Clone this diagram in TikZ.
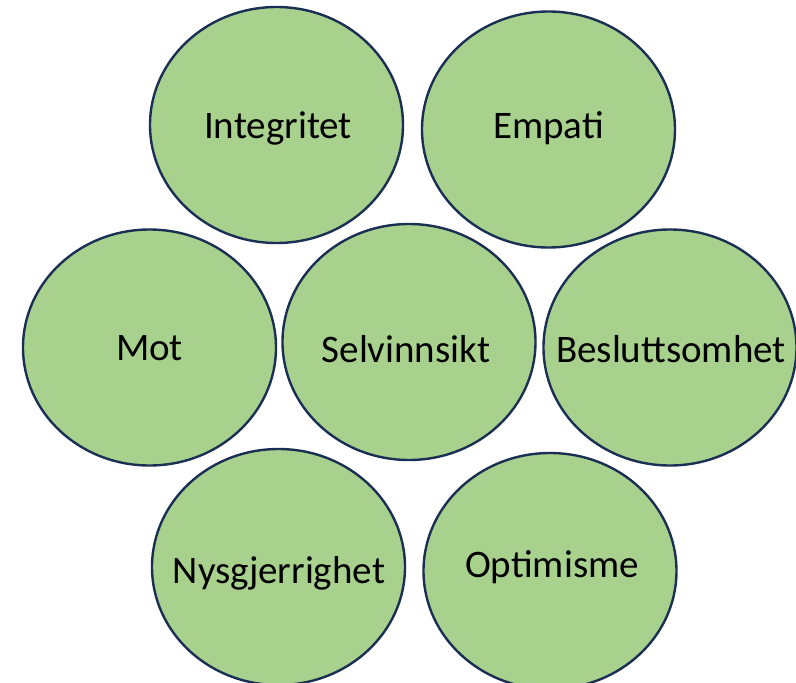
\documentclass[tikz,border=0pt]{standalone}
\usepackage{fontspec}
\setmainfont{Carlito}
\usetikzlibrary{shapes.geometric}
\definecolor{circfill}{HTML}{A9D18E}
\definecolor{circline}{HTML}{1B2F55}
\tikzset{
  trait/.style={ellipse, draw=circline, fill=circfill, line width=2.4pt,
    minimum width=253pt, minimum height=236pt, inner sep=0pt},
  traittext/.style={anchor=base, inner sep=0pt, font=\fontsize{39}{44}\selectfont, text=black}
}
\begin{document}
\begin{tikzpicture}[x=1pt,y=-1pt]
\useasboundingbox (0,0) rectangle (796,683);
\node[trait] (integ) at (276.5,125) {};
\node[trait] (empati) at (548.5,129.5) {};
\node[trait] (mot) at (149.5,347.5) {};
\node[trait] (selv) at (409,342) {};
\node[trait] (beslut) at (670,347.5) {};
\node[trait] (nysg) at (278.5,567) {};
\node[trait] (optim) at (550,571) {};
\node[traittext] (tinteg) at (278,138) {Integritet};
\node[traittext] (tempati) at (548.5,138) {Empati};
\node[traittext] (tmot) at (149.5,360) {Mot};
\node[traittext] (tselv) at (406,362) {Selvinnsikt};
\node[traittext] (tbeslut) at (671,362) {Besluttsomhet};
\node[traittext] (tnysg) at (279,583) {Nysgjerrighet};
\node[traittext] (toptim) at (552,577) {Optimisme};
\end{tikzpicture}
\end{document}
